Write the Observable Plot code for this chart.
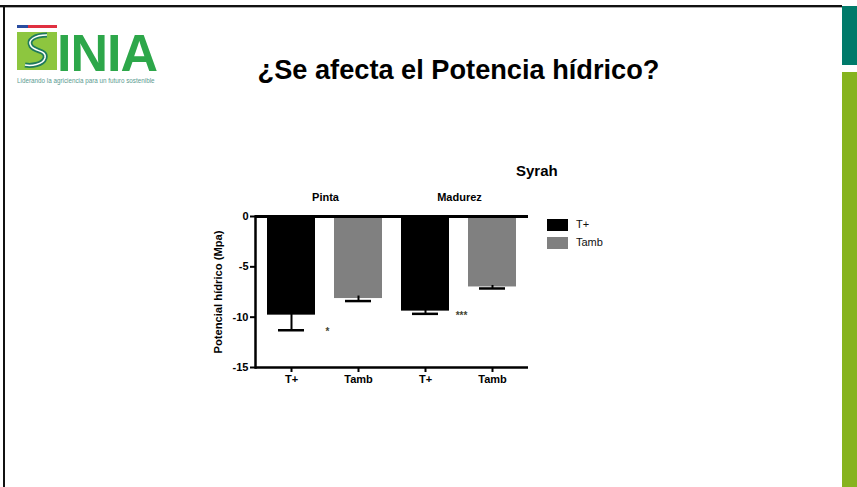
<!DOCTYPE html>
<html><head><meta charset="utf-8">
<script src="https://cdn.jsdelivr.net/npm/d3@7"></script>
<script src="https://cdn.jsdelivr.net/npm/@observablehq/plot@0.6"></script>
<style>
html,body{margin:0;padding:0;}
body{width:857px;height:487px;position:relative;overflow:hidden;background:#fff;font-family:"Liberation Sans",Arial,sans-serif;}
.abs{position:absolute;}
#topline{left:0;top:5px;width:842px;height:2px;background:#111;box-shadow:0 1px 0 #aaa;}
#leftline{left:3px;top:6px;width:2px;height:481px;background:#111;}
#teal{left:842px;top:6px;width:15px;height:59px;background:#007a6a;}
#green{left:842px;top:72px;width:15px;height:415px;background:#86b31e;}
#title{left:0;width:917px;top:54px;text-align:center;font-weight:bold;font-size:27.2px;line-height:32px;color:#000;}
#chart{left:200px;top:150px;}
#syrah{left:516px;top:162px;font-weight:bold;font-size:15px;}
#ylab{left:218px;top:292px;transform:translate(-50%,-50%) rotate(-90deg);font-weight:bold;font-size:11.2px;white-space:nowrap;}
.sw{width:21px;height:12px;}
.lt{font-size:11px;color:#111;}
#inia{left:57px;top:33px;font-weight:bold;font-size:52px;color:#2da74a;letter-spacing:-1px;line-height:40px;height:40px;}
#tag{left:17px;top:77px;font-size:6.3px;line-height:7px;color:#5a9a90;white-space:nowrap;}
</style></head><body>
<div id="topline" class="abs"></div>
<div id="leftline" class="abs"></div>
<div id="teal" class="abs"></div>
<div id="green" class="abs"></div>
<div class="abs" style="left:17px;top:25px;width:11px;height:3px;background:#2a4da0"></div>
<div class="abs" style="left:28px;top:25px;width:29px;height:3px;background:#e03040"></div>
<svg class="abs" style="left:17px;top:32px" width="40" height="38" viewBox="0 0 40 38">
<rect width="40" height="38" fill="#8dc63f"/>
<path d="M30 3 C18 3 10 8 14 14 C18 20 30 18 28 26 C26 33 14 34 8 33" fill="none" stroke="#1f7a5c" stroke-width="5"/>
<path d="M30 3 C18 3 10 8 14 14 C18 20 30 18 28 26 C26 33 14 34 8 33" fill="none" stroke="#fff" stroke-width="1.5"/>
</svg>
<div id="inia" class="abs">INIA</div>
<div id="tag" class="abs">Liderando la agriciencia para un futuro sostenible</div>
<div id="title" class="abs">¿Se afecta el Potencia hídrico?</div>
<div id="syrah" class="abs">Syrah</div>
<div id="ylab" class="abs">Potencial hídrico (Mpa)</div>
<div class="abs sw" style="left:547px;top:219px;background:#000"></div>
<div class="abs lt" style="left:576px;top:218px">T+</div>
<div class="abs sw" style="left:547px;top:237px;background:#808080"></div>
<div class="abs lt" style="left:576px;top:236px">Tamb</div>
<div id="chart" class="abs"></div>
<script>
const periods = ["Pinta", "Pinta", "Madurez", "Madurez"];
const treatments = ["T+", "Tamb", "T+", "Tamb"];
const means = [-9.8, -8.15, -9.4, -7.0];
const errors = [1.5, 0.25, 0.27, 0.15];
const significance = ["*", "", "***", ""];
const yTicks = [0, -5, -10, -15];
const treatmentColors = ["#000000", "#808080"];

const data = means.map((m, i) => ({
  key: periods[i] + " " + treatments[i],
  period: periods[i],
  treatment: treatments[i],
  mean: m,
  err: errors[i],
  sig: significance[i]
}));
const labelOf = Object.fromEntries(data.map(d => [d.key, d.treatment]));

const chart = Plot.plot({
  width: 420,
  height: 240,
  marginLeft: 55,
  marginTop: 66,
  marginRight: 92,
  marginBottom: 23,
  style: {fontFamily: '"Liberation Sans", Arial, sans-serif', fontSize: "11px", fontWeight: "bold", color: "#000", background: "transparent", overflow: "visible"},
  x: {type: "band", domain: data.map(d => d.key), paddingInner: 0.28, paddingOuter: 0.15},
  y: {domain: [-15, 0]},
  color: {domain: ["T+", "Tamb"], range: treatmentColors},
  marks: [
    Plot.barY(data, {x: "key", y: "mean", fill: "treatment"}),
    Plot.ruleX(data, {x: "key", y1: d => d.mean - d.err, y2: d => d.mean + d.err, stroke: "#000", strokeWidth: 2}),
    Plot.tickY(data, {x: "key", y: d => d.mean - d.err, insetLeft: 11, insetRight: 11, stroke: "#000", strokeWidth: 2.5}),
    Plot.text(data, {x: "key", y: d => d.mean - d.err, text: "sig", dx: 36, dy: 2, fontSize: 10, fill: "#443"}),
    Plot.text(data.filter(d => d.treatment === "T+"), {x: "key", y: 0, text: "period", dx: 34, dy: -19, fontSize: 11, fontWeight: "bold"}),
    Plot.ruleY([0], {strokeWidth: 3}),
    Plot.ruleY([-15], {strokeWidth: 2.5}),
    Plot.frame({anchor: "left", strokeWidth: 2.5}),
    Plot.axisY({ticks: yTicks, tickFormat: d => String(d), tickSize: 5, tickPadding: 2, strokeWidth: 2, label: null}),
    Plot.axisX({tickFormat: k => labelOf[k], tickSize: 5, tickPadding: 3, strokeWidth: 2, label: null})
  ]
});
document.getElementById("chart").appendChild(chart);
</script>
</body></html>
